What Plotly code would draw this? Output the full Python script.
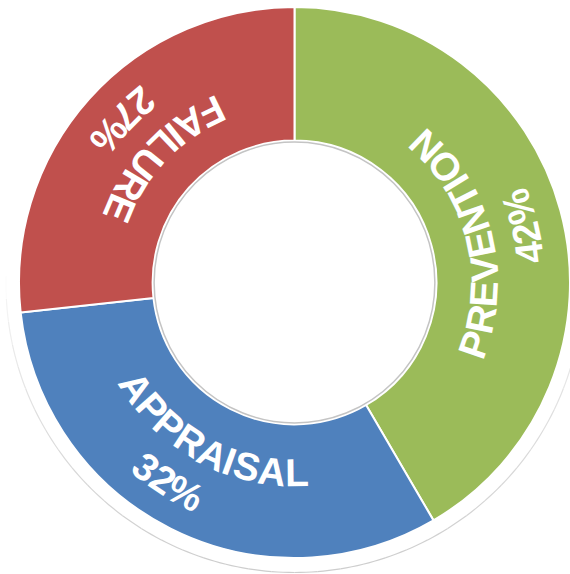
import math
import plotly.graph_objects as go

# Cost-of-quality split
categories = ["PREVENTION", "APPRAISAL", "FAILURE"]
shares = [42, 32, 27]
slice_colors = ["#9BBB59", "#4F81BD", "#C0504D"]

W, H = 570, 574
CX, CY = 294.5, 282.5        # ring centre, px from top-left
R = 275.5                    # outer radius, px
HOLE = 0.515

NAME_RADIUS = 190
PCT_RADIUS = 237
FONT_SIZE = 39
TRACKING = 0.95
NUDGE = 1.5                  # degrees, clockwise
PCT_SHIFT = {"APPRAISAL": 4.0}   # extra clockwise shift of the percent line

# Advance widths (em) of a bold Arial-metric face
ADV = {
    "A": 0.722, "E": 0.667, "F": 0.611, "I": 0.278, "L": 0.611, "N": 0.722,
    "O": 0.778, "P": 0.667, "R": 0.722, "S": 0.667, "T": 0.611, "U": 0.722,
    "V": 0.667, "%": 0.889,
}
for d in "0123456789":
    ADV[d] = 0.556


def to_paper(px, py):
    return px / W, 1 - py / H


fig = go.Figure(
    go.Pie(
        labels=categories,
        values=shares,
        hole=HOLE,
        sort=False,
        direction="clockwise",
        rotation=0,
        marker=dict(colors=slice_colors, line=dict(color="white", width=2)),
        textinfo="none",
        hoverinfo="label+percent",
        showlegend=False,
        domain=dict(
            x=[max(0, (CX - R) / W), min(1, (CX + R) / W)],
            y=[max(0, 1 - (CY + R) / H), min(1, 1 - (CY - R) / H)],
        ),
    )
)


def arc_text(text, mid_deg, radius):
    """Lay a string along a circle, reading counter-clockwise, tops toward the centre."""
    adv = [ADV.get(c, 0.6) * FONT_SIZE * TRACKING for c in text]
    s = sum(adv) / 2
    out = []
    for ch, a in zip(text, adv):
        theta = mid_deg + math.degrees((s - a / 2) / radius)
        s -= a
        t = math.radians(theta)
        x, y = to_paper(CX + radius * math.sin(t), CY - radius * math.cos(t))
        rot = (theta + 180 + 180) % 360 - 180
        out.append(dict(
            x=x, y=y, xref="paper", yref="paper", text=ch, showarrow=False,
            xanchor="center", yanchor="middle", textangle=rot,
            font=dict(family="Liberation Sans, Arial, sans-serif", size=FONT_SIZE,
                      color="white", weight="bold"),
        ))
    return out


total = sum(shares)
annotations = []
start = 0.0
for name, v in zip(categories, shares):
    sweep = v / total * 360
    mid = start + sweep / 2 + NUDGE
    annotations += arc_text(name, mid, NAME_RADIUS)
    annotations += arc_text(f"{round(v / total * 100)}%", mid + PCT_SHIFT.get(name, 0.0), PCT_RADIUS)
    start += sweep

# thin outline round the hole
r_in = HOLE * R - 1.5
shapes = [
    dict(type="circle", xref="paper", yref="paper",
         x0=(CX - r_in) / W, x1=(CX + r_in) / W,
         y0=1 - (CY + r_in) / H, y1=1 - (CY - r_in) / H,
         line=dict(color="#c4c4c4", width=1.5)),
]

# soft rim under the lower half of the ring, fading out toward the top
r_rim, rim_dy = R + 13, 1.5
n_seg = 48
a0, a1 = 70.0, 290.0
for i in range(n_seg):
    ta = a0 + (a1 - a0) * i / n_seg
    tb = a0 + (a1 - a0) * (i + 1) / n_seg
    tm = math.radians((ta + tb) / 2)
    strength = max(0.0, -math.cos(tm)) ** 0.6       # strongest at the bottom
    g = int(round(255 - (255 - 205) * strength))
    pts = []
    for k in range(5):
        t = math.radians(ta + (tb - ta) * k / 4)
        pts.append(to_paper(CX + r_rim * math.sin(t), CY + rim_dy - r_rim * math.cos(t)))
    path = "M " + " L ".join(f"{x:.5f},{y:.5f}" for x, y in pts)
    shapes.append(dict(type="path", xref="paper", yref="paper", path=path,
                       line=dict(color=f"rgb({g},{g},{g})", width=1.2), layer="below"))

fig.update_layout(
    width=W, height=H,
    margin=dict(l=0, r=0, t=0, b=0),
    paper_bgcolor="white", plot_bgcolor="white",
    annotations=annotations, shapes=shapes,
)

fig.write_html("out.html")
